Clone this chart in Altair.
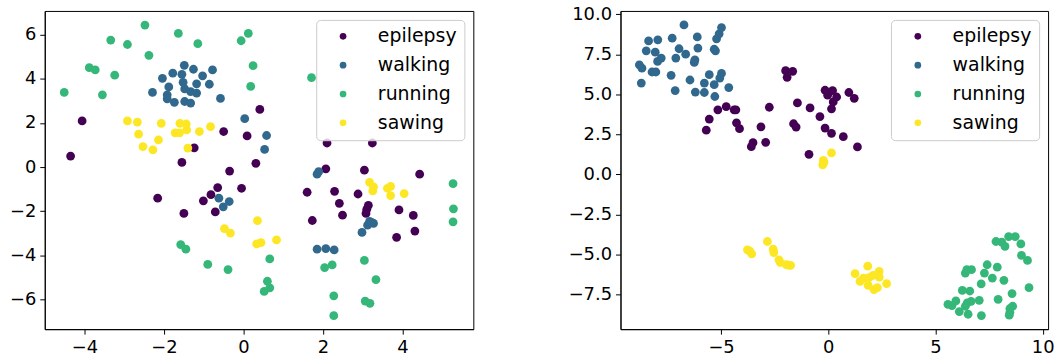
import altair as alt
import pandas as pd

classes = ["epilepsy", "walking", "running", "sawing"]
colors = ["#440154", "#31688e", "#35b779", "#fde725"]

# ---- left panel points (x, y) ----
left_epilepsy = [(-4.06, 2.09), (-4.35, 0.50), (-0.50, 1.61), (-1.24, 0.87), (-1.55, 0.21), (-0.35, -0.18),
                 (0.09, 1.41), (0.41, 2.61), (0.31, 0.17), (2.10, 1.09), (3.24, 1.09), (2.07, -0.08),
                 (3.04, -0.14), (4.43, -0.32), (-2.16, -1.41), (-1.50, -2.10), (-1.01, -1.53), (-0.82, -1.25),
                 (-0.65, -0.93), (-0.71, -2.03), (-0.05, -0.96), (1.60, -1.14), (2.29, -1.10), (1.73, -2.42),
                 (2.41, -1.64), (2.49, -2.18), (2.88, -1.22), (3.14, -1.73), (3.10, -1.91), (3.08, -2.10),
                 (3.91, -1.94), (4.27, -2.19), (4.31, -2.90), (3.85, -3.18)]
left_walking = [(-2.29, 3.38), (-2.04, 4.02), (-1.88, 3.63), (-1.92, 3.27), (-1.92, 3.09), (-1.78, 4.25),
                (-1.74, 2.93), (-1.55, 4.20), (-1.49, 4.61), (-1.52, 3.84), (-1.48, 3.54), (-1.48, 2.97),
                (-1.33, 2.90), (-1.33, 3.42), (-1.26, 4.43), (-1.18, 3.77), (-1.18, 3.35), (-1.03, 4.13),
                (-0.86, 3.75), (-0.78, 4.40), (-0.58, 3.11), (0.03, 2.19), (0.58, 1.43), (0.53, 0.80),
                (1.85, -0.32), (1.89, -0.21), (-0.62, -1.41), (-0.51, -1.80), (-0.36, -1.56), (1.85, -3.72),
                (2.07, -3.69), (2.28, -3.75), (2.98, -2.96), (3.12, -2.63), (3.17, -2.46), (3.27, -2.55),
                (3.22, -2.50)]
left_running = [(-4.51, 3.38), (-3.88, 4.50), (-3.73, 4.40), (-3.55, 3.27), (-3.34, 5.75), (-3.24, 4.16),
                (-2.92, 5.55), (-2.48, 6.43), (-2.38, 5.06), (-1.64, 6.05), (-1.15, 5.59), (-0.06, 5.72),
                (0.12, 6.05), (0.24, 4.59), (0.18, 3.65), (1.71, 4.05), (-1.58, -3.51), (-1.45, -3.72),
                (-0.90, -4.41), (-0.39, -4.64), (0.66, -4.16), (0.60, -5.17), (0.66, -5.47), (0.52, -5.63),
                (2.04, -4.55), (2.23, -4.43), (3.04, -4.23), (3.33, -5.10), (2.27, -5.83), (3.06, -6.07),
                (3.18, -6.17), (2.27, -6.73), (5.27, -0.75), (5.28, -1.89), (5.27, -2.48)]
left_sawing = [(-2.92, 2.09), (-2.67, 2.04), (-2.64, 1.49), (-2.53, 0.93), (-2.28, 0.78), (-2.14, 1.23),
               (-2.07, 1.98), (-1.72, 1.55), (-1.61, 1.55), (-1.60, 1.98), (-1.44, 1.95), (-1.43, 1.68),
               (-1.40, 0.86), (-1.11, 1.61), (-0.83, 1.83), (-0.48, -2.79), (-0.33, -2.99), (0.35, -2.43),
               (0.33, -3.48), (0.44, -3.42), (0.83, -3.30), (3.17, -0.69), (3.27, -0.90), (3.25, -1.08),
               (3.62, -0.96), (3.70, -0.87), (3.70, -1.29), (4.04, -1.20)]

# ---- right panel points (x, y) ----
right_epilepsy = [(-5.69, 2.76), (-5.55, 3.45), (-5.15, 4.03), (-4.76, 4.23), (-4.39, 4.03), (-4.31, 4.03),
                  (-4.28, 3.22), (-4.14, 2.85), (-3.59, 1.73), (-3.51, 1.98), (-3.14, 2.97), (-2.92, 2.00),
                  (-2.75, 4.19), (-1.99, 6.47), (-1.92, 6.06), (-1.66, 6.43), (-1.44, 4.46), (-1.62, 3.16),
                  (-1.50, 2.95), (-0.85, 4.15), (-0.39, 3.61), (-0.15, 5.25), (-0.03, 4.94), (0.20, 5.23),
                  (0.39, 4.83), (0.23, 4.52), (0.15, 4.09), (-0.15, 2.89), (0.15, 2.56), (0.70, 2.35),
                  (0.96, 5.11), (1.21, 4.75), (1.36, 1.71), (-0.90, 1.25)]
right_walking = [(-8.81, 6.84), (-8.69, 6.63), (-8.72, 5.70), (-8.49, 7.71), (-8.38, 8.33), (-8.22, 6.39),
                 (-8.04, 6.39), (-8.07, 7.63), (-7.95, 8.40), (-7.96, 7.05), (-7.79, 7.26), (-7.33, 6.18),
                 (-7.28, 8.50), (-7.14, 5.23), (-7.11, 7.26), (-6.96, 7.84), (-6.73, 9.33), (-6.65, 7.50),
                 (-6.45, 5.89), (-6.25, 6.99), (-6.22, 7.15), (-6.20, 5.14), (-6.11, 8.58), (-6.08, 7.88),
                 (-5.78, 5.70), (-5.78, 5.11), (-5.55, 6.22), (-5.32, 7.81), (-5.26, 7.71), (-5.32, 5.60),
                 (-5.29, 4.86), (-5.06, 6.01), (-4.98, 6.30), (-5.21, 8.46), (-5.09, 8.77), (-4.98, 9.16),
                 (-4.64, 5.42)]
right_running = [(5.58, -8.11), (5.77, -8.19), (5.95, -7.90), (6.11, -8.56), (6.39, -8.23), (6.52, -8.73),
                 (6.48, -8.02), (6.66, -7.92), (6.25, -7.24), (6.60, -7.28), (6.39, -6.16), (6.46, -5.95),
                 (6.68, -5.95), (7.04, -7.86), (7.13, -6.84), (7.14, -8.81), (7.28, -6.16), (7.41, -5.64),
                 (7.65, -6.47), (7.88, -5.79), (7.92, -7.80), (8.19, -6.61), (7.82, -4.19), (8.09, -4.23),
                 (8.24, -4.50), (8.41, -3.88), (8.72, -3.88), (8.98, -4.34), (9.01, -5.06), (9.29, -5.37),
                 (8.57, -7.44), (9.36, -7.07), (8.60, -8.23), (8.47, -8.37), (8.44, -8.79), (8.47, -8.60)]
right_sawing = [(0.15, 1.34), (-0.23, 0.88), (-0.26, 0.59), (-0.20, 0.75), (-3.77, -4.71), (-3.66, -4.79),
                (-3.57, -4.96), (-2.84, -4.19), (-2.57, -4.67), (-2.54, -4.88), (-2.30, -5.33), (-2.24, -5.50),
                (-1.96, -5.64), (-1.76, -5.68), (-1.85, -5.66), (1.25, -6.20), (1.48, -6.68), (1.64, -6.47),
                (1.84, -5.73), (1.86, -6.93), (2.09, -6.30), (2.13, -7.19), (2.29, -7.07), (2.37, -6.06),
                (2.38, -6.41), (2.72, -6.82), (1.90, -6.45)]

left_x_ticks = [-4, -2, 0, 2, 4]
left_y_ticks = [-6, -4, -2, 0, 2, 4, 6]
right_x_ticks = [-5, 0, 5, 10]
right_y_ticks = [-7.5, -5.0, -2.5, 0.0, 2.5, 5.0, 7.5, 10.0]


def frame(groups):
    rows = []
    for name, pts in zip(classes, groups):
        for x, y in pts:
            rows.append({"x": x, "y": y, "cls": name})
    return pd.DataFrame(rows)


legend = alt.Legend(
    title=None, orient="top-right", offset=9, padding=7,
    symbolOffset=10.5, labelOffset=25.5, rowPadding=9,
    labelFontSize=19, labelFont="DejaVu Sans", labelColor="black",
    symbolSize=45, symbolType="circle", symbolStrokeWidth=0,
    strokeColor="#cccccc", fillColor="rgba(255,255,255,0.8)", cornerRadius=4,
)


def panel(df, xdom, ydom, xticks, yticks, xfmt, yfmt, w):
    return alt.Chart(df).mark_circle(size=78, opacity=1).encode(
        x=alt.X("x:Q", scale=alt.Scale(domain=xdom, nice=False, zero=False),
                axis=alt.Axis(values=xticks, format=xfmt, title=None, grid=False)),
        y=alt.Y("y:Q", scale=alt.Scale(domain=ydom, nice=False, zero=False),
                axis=alt.Axis(values=yticks, format=yfmt, title=None, grid=False)),
        color=alt.Color("cls:N", scale=alt.Scale(domain=classes, range=colors), legend=legend),
    ).properties(width=w, height=320)


left = panel(frame([left_epilepsy, left_walking, left_running, left_sawing]),
             [-5.0, 5.78], [-7.34, 7.07], left_x_ticks, left_y_ticks, "d", "d", 431)
right = panel(frame([right_epilepsy, right_walking, right_running, right_sawing]),
              [-9.69, 10.25], [-9.66, 10.2], right_x_ticks, right_y_ticks, "d", ".1f", 430)

chart = alt.hconcat(left, right, spacing=148, bounds="flush").resolve_legend(
    color="independent"
).properties(
    padding={"left": 8, "top": 3, "right": 8, "bottom": 0}
).configure_axis(
    labelFontSize=18, labelFont="DejaVu Sans", labelColor="black",
    tickColor="black", domainColor="black", tickSize=5, labelPadding=4,
    tickWidth=1, domainWidth=1,
).configure_view(stroke="black", strokeWidth=1)

chart.save("out.html", embed_options={"renderer": "svg", "actions": False})
